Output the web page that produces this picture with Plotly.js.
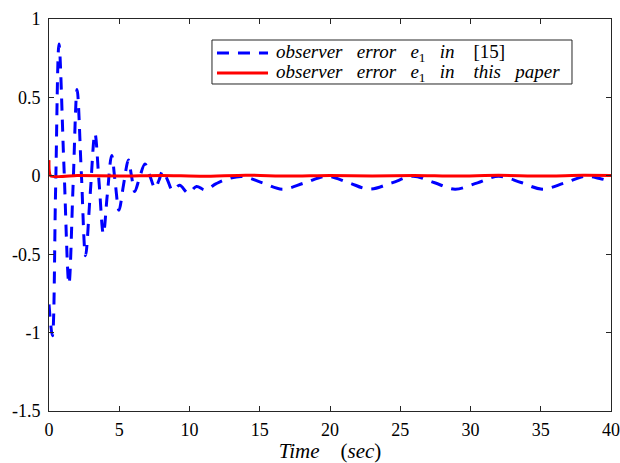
<!DOCTYPE html>
<html>
<head>
<meta charset="utf-8">
<script src="https://cdn.plot.ly/plotly-3.0.1.min.js"></script>
<style>html,body{margin:0;padding:0;background:#fff;}#chart{width:620px;height:463px;}</style>
</head>
<body>
<div id="chart"></div>
<script>
// Observer error e1 in [15] (blue dashed)
var tRef = [0, 0.24, 0.47, 0.71, 1.06, 1.42, 1.71, 2.0, 2.3, 2.6, 2.93, 3.27, 3.57, 3.87, 4.15, 4.46, 4.72, 4.98, 5.3, 5.65, 5.87, 6.1, 6.45, 6.83, 7.2, 7.55, 7.82, 8.1, 8.45, 8.8, 9.3, 9.9, 10.5, 11.1, 11.9, 12.7, 13.8, 15.2, 16.6, 18.2, 19.8, 21.3, 22.8, 24.4, 25.9, 27.4, 28.9, 30.5, 32.0, 33.6, 35.1, 36.7, 38.2, 39.2, 40];
var eRef = [-0.82, -1.02, -0.09, 0.84, 0.07, -0.69, -0.07, 0.55, 0.02, -0.51, -0.12, 0.27, -0.05, -0.37, -0.12, 0.13, -0.05, -0.22, -0.06, 0.10, 0.0, -0.10, -0.01, 0.075, -0.005, -0.08, -0.03, 0.03, -0.03, -0.093, -0.06, -0.11, -0.068, -0.09, -0.05, -0.02, -0.005, -0.045, -0.085, -0.045, -0.003, -0.043, -0.085, -0.045, -0.003, -0.043, -0.085, -0.045, -0.003, -0.043, -0.085, -0.045, -0.003, -0.017, -0.035];
// Observer error e1 in this paper (red solid)
var tNew = [0, 0.12, 2, 5, 8, 11, 14, 17, 20, 23, 26, 29, 32, 35, 38, 40];
var eNew = [0.10, 0.0, 0.002, -0.002, 0.002, -0.003, 0.004, -0.002, 0.002, -0.002, 0.002, -0.002, 0.003, -0.002, 0.003, 0.002];
var xTicks = [0, 5, 10, 15, 20, 25, 30, 35, 40];
var yTicks = [1, 0.5, 0, -0.5, -1, -1.5];
var yTickText = ['1', '0.5', '0', '-0.5', '-1', '-1.5'];

function nb(n) { return '\u00A0'.repeat(n); }
var nameRef = '<i>observer</i>' + nb(3) + '<i>error</i>' + nb(3) + '<i>e</i><sub>1</sub>' + nb(3) + '<i>in</i>' + nb(4) + '[15]';
var nameNew = '<i>observer</i>' + nb(3) + '<i>error</i>' + nb(3) + '<i>e</i><sub>1</sub>' + nb(3) + '<i>in</i>' + nb(4) + '<i>this</i>' + nb(3) + '<i>paper</i>';

var serif = "'Liberation Serif', 'Times New Roman', serif";
var axisCol = '#262626';
var blue = '#0000FF', red = '#FF0000';
var blueDash = '12px,9px';

var traces = [
  {x: tRef, y: eRef, type: 'scatter', mode: 'lines', name: nameRef,
   line: {color: blue, width: 3, dash: blueDash, shape: 'spline', smoothing: 1}},
  {x: tNew, y: eNew, type: 'scatter', mode: 'lines', name: nameNew,
   line: {color: red, width: 3, shape: 'spline', smoothing: 0.6}}
];

var lg = {x0: 0.290, x1: 0.9306, y0: 0.8342, y1: 0.9464, lx0: 0.2989, lx1: 0.3897, tx: 0.4004, r1: 0.9133, r2: 0.8622};

var layout = {
  width: 620, height: 463,
  margin: {l: 49, r: 9, t: 19, b: 52},
  paper_bgcolor: '#fff', plot_bgcolor: '#fff',
  font: {family: serif, size: 18, color: '#000'},
  showlegend: false,
  xaxis: {range: [0, 40], tickvals: xTicks, ticktext: xTicks.map(String),
          ticks: 'inside', ticklen: 5, tickcolor: axisCol, showgrid: false, zeroline: false,
          showline: true, linecolor: axisCol, linewidth: 1, mirror: 'ticks',
          ticklabelstandoff: 2, ticklabeloverflow: 'allow', tickfont: {family: serif, size: 18, color: '#000'},
          title: {text: '<i>Time</i>' + nb(4) + '(<i>sec</i>)', font: {family: serif, size: 21, color: '#000'}, standoff: 3}},
  yaxis: {range: [-1.5, 1], tickvals: yTicks, ticktext: yTickText,
          ticks: 'inside', ticklen: 5, tickcolor: axisCol, showgrid: false, zeroline: false,
          showline: true, linecolor: axisCol, linewidth: 1, mirror: 'ticks',
          ticklabelstandoff: 4, tickfont: {family: serif, size: 18, color: '#000'}},
  shapes: [
    {type: 'rect', xref: 'paper', yref: 'paper', x0: lg.x0, x1: lg.x1, y0: lg.y0, y1: lg.y1,
     line: {color: axisCol, width: 1}, fillcolor: '#fff', layer: 'above'},
    {type: 'line', xref: 'paper', yref: 'paper', x0: lg.lx0, x1: lg.lx1, y0: lg.r1, y1: lg.r1,
     line: {color: blue, width: 3, dash: blueDash}, layer: 'above'},
    {type: 'line', xref: 'paper', yref: 'paper', x0: lg.lx0, x1: lg.lx1, y0: lg.r2, y1: lg.r2,
     line: {color: red, width: 3}, layer: 'above'}
  ],
  annotations: [
    {xref: 'paper', yref: 'paper', x: lg.tx, y: lg.r1, xanchor: 'left', yanchor: 'middle', showarrow: false,
     text: nameRef, font: {family: serif, size: 19, color: '#000'}},
    {xref: 'paper', yref: 'paper', x: lg.tx, y: lg.r2, xanchor: 'left', yanchor: 'middle', showarrow: false,
     text: nameNew, font: {family: serif, size: 19, color: '#000'}}
  ]
};

Plotly.newPlot('chart', traces, layout, {displayModeBar: false, staticPlot: true});
</script>
</body>
</html>
